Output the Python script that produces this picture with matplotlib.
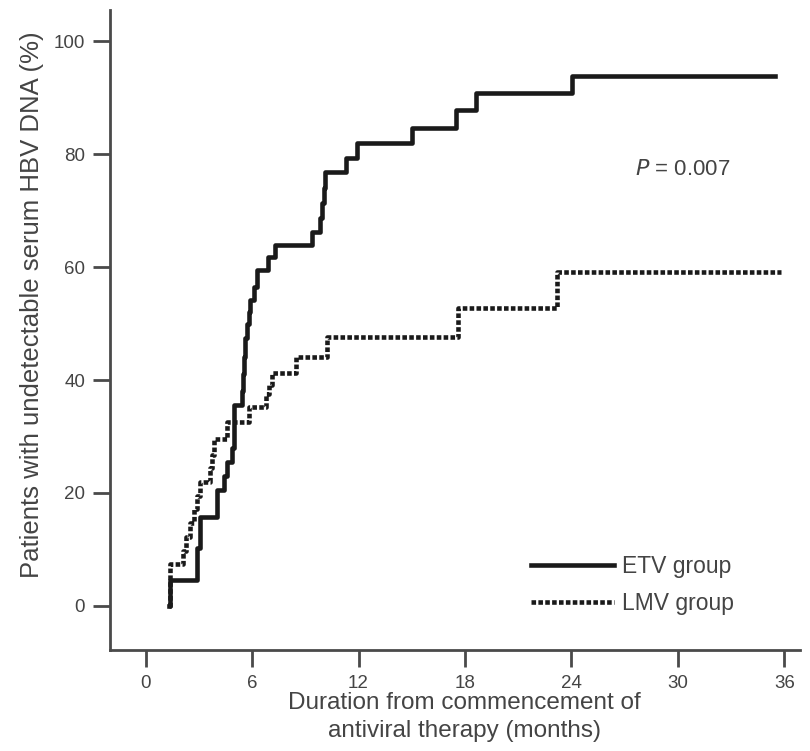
import matplotlib
matplotlib.use("Agg")
import matplotlib.pyplot as plt

plt.rcParams['font.family'] = ['Liberation Sans', 'DejaVu Sans']

# step points (months, % undetectable); value holds from that time on (where='post')
etv_t = [1.3, 1.35, 2.9, 3.05, 4.05, 4.4, 4.6, 4.85, 5.0, 5.45, 5.5, 5.55, 5.6, 5.7,
         5.8, 5.9, 6.1, 6.3, 6.9, 7.3, 9.4, 9.85, 9.95, 10.05, 10.1, 11.3, 11.9, 15.0,
         17.5, 18.6, 24.05, 35.5]
etv_v = [0, 4.6, 10.3, 15.8, 20.5, 23.0, 25.5, 28.0, 35.6, 38.0, 41.0, 44.0, 47.4,
         50.0, 52.0, 54.2, 56.5, 59.5, 61.8, 64.0, 66.2, 68.7, 71.3, 74.0, 76.8, 79.3,
         82.0, 84.6, 87.8, 90.8, 93.8, 93.8]

lmv_t = [1.3, 1.35, 2.1, 2.3, 2.5, 2.7, 2.9, 3.05, 3.65, 3.75, 3.85, 4.6, 5.85, 6.8,
         6.95, 7.1, 8.5, 10.2, 17.6, 23.2, 35.8]
lmv_v = [0, 7.4, 9.8, 12.2, 14.6, 17.1, 19.5, 21.9, 24.4, 26.8, 29.5, 32.6, 35.2, 37.6,
         39.2, 41.2, 44.1, 47.6, 52.7, 59.1, 59.1]

x_ticks = [0, 6, 12, 18, 24, 30, 36]
y_ticks = [0, 20, 40, 60, 80, 100]

fig = plt.figure(figsize=(8.1, 7.51), dpi=100)
ax = fig.add_axes([0.136, 0.1345, 0.852, 0.852])

ax.step(etv_t, etv_v, where='post', color='#1a1a1a', lw=3.3, label='ETV group')
ax.step(lmv_t, lmv_v, where='post', color='#1a1a1a', lw=3.3,
        linestyle=(0, (1.0, 0.5)), label='LMV group')

ax.set_xlim(-2, 36.9)
ax.set_ylim(-7.8, 105.5)
ax.set_xticks(x_ticks)
ax.set_yticks(y_ticks)

for s in ['top', 'right']:
    ax.spines[s].set_visible(False)
for s in ['left', 'bottom']:
    ax.spines[s].set_linewidth(2)
    ax.spines[s].set_color('#4a4a4a')

ax.tick_params(axis='both', direction='out', length=12, width=2, color='#4a4a4a',
               labelsize=13.5, labelcolor='#444444', pad=6)

ax.set_ylabel('Patients with undetectable serum HBV DNA (%)', fontsize=18.5,
              color='#444444')
ax.yaxis.set_label_coords(-0.096, 0.539)
ax.set_xlabel('Duration from commencement of\nantiviral therapy (months)', fontsize=17.5,
              color='#444444', linespacing=1.35)
ax.xaxis.set_label_coords(0.513, -0.066)

ax.text(27.6, 77.2, r'$\it{P}$ = 0.007', fontsize=16, color='#444444', va='center')

ax.legend(loc='upper left', bbox_to_anchor=(0.58, 0.18), frameon=False,
          fontsize=16.5, handlelength=3.6, handletextpad=0.35, labelspacing=0.6,
          labelcolor='#444444')

fig.savefig('out.png', dpi=100)
